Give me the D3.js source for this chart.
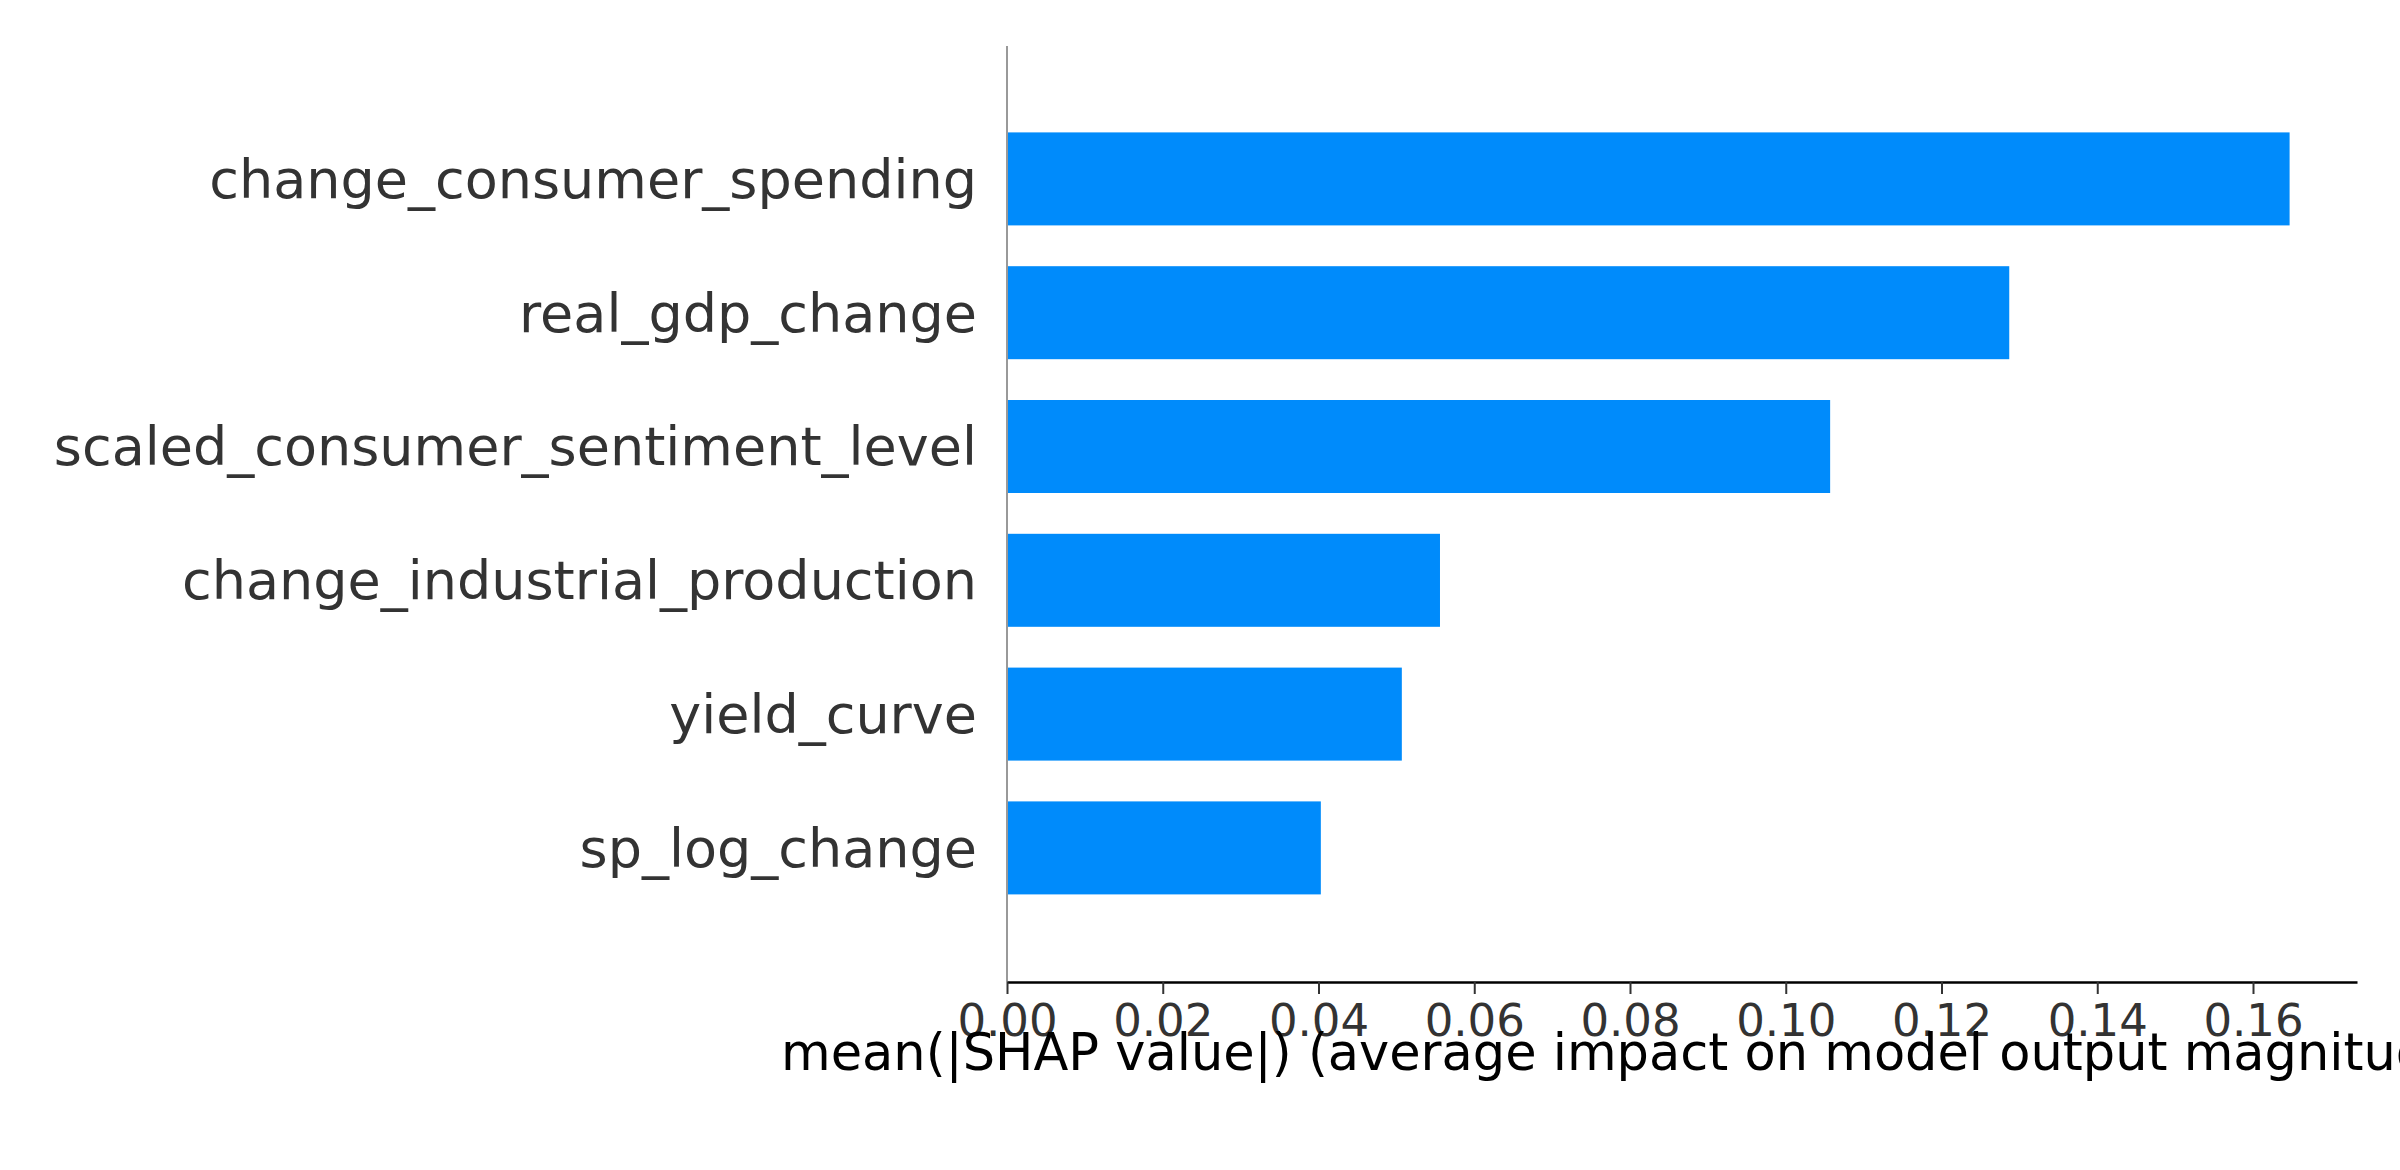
<!DOCTYPE html>
<html><head><meta charset="utf-8">
<script src="https://cdn.jsdelivr.net/npm/d3@7"></script>
<style>body{margin:0;background:#fff}</style></head>
<body><svg id="c" width="2400" height="1170"></svg>
<script>
const features = ["change_consumer_spending","real_gdp_change","scaled_consumer_sentiment_level","change_industrial_production","yield_curve","sp_log_change"];
const values = [0.1647,0.1287,0.1057,0.0556,0.0507,0.0403];
const ticks = [0,0.02,0.04,0.06,0.08,0.10,0.12,0.14,0.16];
const xLabel = "mean(|SHAP value|) (average impact on model output magnitude)";

const svg = d3.select("#c");
const x0 = 1007, x016 = 2253;
const x = d3.scaleLinear().domain([0,0.16]).range([x0,x016]);
const xMax = x.invert(2357);
const y = d3.scaleBand().domain(features).range([112,112+133.8*6]).paddingInner(0.3).paddingOuter(0.15);
const axisY = 982;

svg.selectAll("rect.bar").data(features).enter().append("rect")
  .attr("x", x(0)).attr("y", d=>y(d)+(y.bandwidth()-93)/2)
  .attr("width", (d,i)=>x(values[i])-x(0)).attr("height", 93).attr("fill","#008bfb");

svg.append("line").attr("x1",x0).attr("x2",x0).attr("y1",46).attr("y2",axisY).attr("stroke","#999").attr("stroke-width",2);

const ax = svg.append("g").attr("transform",`translate(0,${axisY})`)
  .call(d3.axisBottom(x.copy().domain([0,xMax]).range([x0,2357])).tickValues(ticks).tickFormat(d3.format(".2f")).tickSize(12).tickPadding(10).tickSizeOuter(0));
ax.select(".domain").attr("stroke","#000").attr("stroke-width",2.5);
ax.selectAll(".tick line").attr("stroke","#333").attr("stroke-width",2);
ax.selectAll(".tick text").attr("fill","#333").style("font-family","DejaVu Sans").style("font-size","45px");

svg.selectAll("text.lab").data(features).enter().append("text")
  .attr("x",977).attr("y",d=>y(d)+y.bandwidth()/2).attr("dy","0.35em")
  .attr("text-anchor","end").attr("fill","#333")
  .style("font-family","DejaVu Sans").style("font-size","54px").text(d=>d);

svg.append("text").attr("x",781).attr("y",1070).attr("fill","#000")
  .style("font-family","DejaVu Sans").style("font-size","51px").text(xLabel);
</script></body></html>
